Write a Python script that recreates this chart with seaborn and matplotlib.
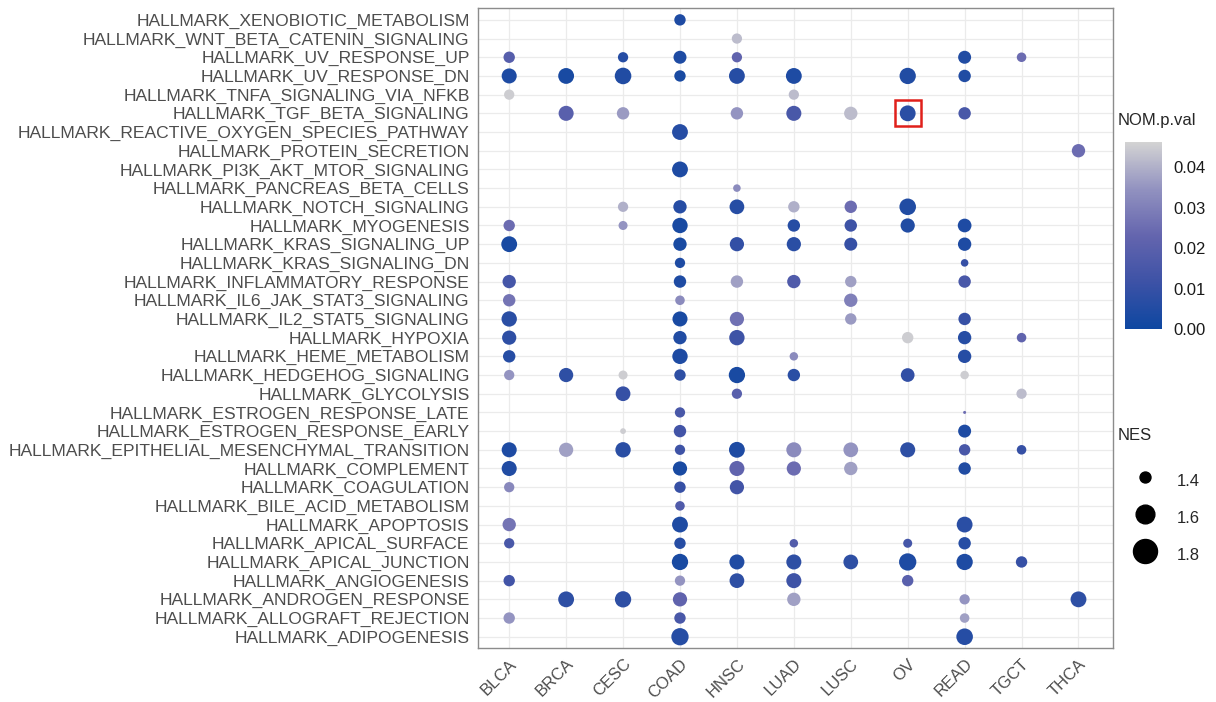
import pandas as pd
import seaborn as sns
import matplotlib.pyplot as plt
from matplotlib.colors import LinearSegmentedColormap, Normalize
from matplotlib.cm import ScalarMappable
from matplotlib.lines import Line2D
from matplotlib.patches import Rectangle

# pathways, top to bottom as shown
pathways = [
    "XENOBIOTIC_METABOLISM", "WNT_BETA_CATENIN_SIGNALING", "UV_RESPONSE_UP",
    "UV_RESPONSE_DN", "TNFA_SIGNALING_VIA_NFKB", "TGF_BETA_SIGNALING",
    "REACTIVE_OXYGEN_SPECIES_PATHWAY", "PROTEIN_SECRETION", "PI3K_AKT_MTOR_SIGNALING",
    "PANCREAS_BETA_CELLS", "NOTCH_SIGNALING", "MYOGENESIS", "KRAS_SIGNALING_UP",
    "KRAS_SIGNALING_DN", "INFLAMMATORY_RESPONSE", "IL6_JAK_STAT3_SIGNALING",
    "IL2_STAT5_SIGNALING", "HYPOXIA", "HEME_METABOLISM", "HEDGEHOG_SIGNALING",
    "GLYCOLYSIS", "ESTROGEN_RESPONSE_LATE", "ESTROGEN_RESPONSE_EARLY",
    "EPITHELIAL_MESENCHYMAL_TRANSITION", "COMPLEMENT", "COAGULATION",
    "BILE_ACID_METABOLISM", "APOPTOSIS", "APICAL_SURFACE", "APICAL_JUNCTION",
    "ANGIOGENESIS", "ANDROGEN_RESPONSE", "ALLOGRAFT_REJECTION", "ADIPOGENESIS",
]
cancers = ["BLCA", "BRCA", "CESC", "COAD", "HNSC", "LUAD", "LUSC", "OV", "READ", "TGCT", "THCA"]

# (pathway, NES, NOM.p.val) per cancer type
BLCA = [("UV_RESPONSE_UP", 1.5, 0.019), ("UV_RESPONSE_DN", 1.7, 0.004),
        ("TNFA_SIGNALING_VIA_NFKB", 1.45, 0.045), ("MYOGENESIS", 1.5, 0.025),
        ("KRAS_SIGNALING_UP", 1.75, 0.003), ("INFLAMMATORY_RESPONSE", 1.6, 0.014),
        ("IL6_JAK_STAT3_SIGNALING", 1.55, 0.027), ("IL2_STAT5_SIGNALING", 1.72, 0.007),
        ("HYPOXIA", 1.65, 0.008), ("HEME_METABOLISM", 1.55, 0.006),
        ("HEDGEHOG_SIGNALING", 1.45, 0.035), ("EPITHELIAL_MESENCHYMAL_TRANSITION", 1.7, 0.004),
        ("COMPLEMENT", 1.7, 0.005), ("COAGULATION", 1.45, 0.032), ("APOPTOSIS", 1.6, 0.027),
        ("APICAL_SURFACE", 1.45, 0.015), ("ANGIOGENESIS", 1.5, 0.013),
        ("ALLOGRAFT_REJECTION", 1.5, 0.035)]
BRCA = [("UV_RESPONSE_DN", 1.75, 0.003), ("TGF_BETA_SIGNALING", 1.7, 0.02),
        ("HEDGEHOG_SIGNALING", 1.65, 0.008), ("EPITHELIAL_MESENCHYMAL_TRANSITION", 1.65, 0.037),
        ("ANDROGEN_RESPONSE", 1.75, 0.008)]
CESC = [("UV_RESPONSE_UP", 1.45, 0.006), ("UV_RESPONSE_DN", 1.8, 0.005),
        ("TGF_BETA_SIGNALING", 1.55, 0.036), ("NOTCH_SIGNALING", 1.45, 0.04),
        ("MYOGENESIS", 1.4, 0.035), ("HEDGEHOG_SIGNALING", 1.4, 0.045),
        ("GLYCOLYSIS", 1.68, 0.01), ("ESTROGEN_RESPONSE_EARLY", 1.3, 0.045),
        ("EPITHELIAL_MESENCHYMAL_TRANSITION", 1.72, 0.007), ("ANDROGEN_RESPONSE", 1.78, 0.008)]
COAD = [("XENOBIOTIC_METABOLISM", 1.5, 0.004), ("UV_RESPONSE_UP", 1.58, 0.004),
        ("UV_RESPONSE_DN", 1.5, 0.003), ("REACTIVE_OXYGEN_SPECIES_PATHWAY", 1.75, 0.006),
        ("PI3K_AKT_MTOR_SIGNALING", 1.75, 0.004), ("NOTCH_SIGNALING", 1.6, 0.006),
        ("MYOGENESIS", 1.72, 0.003), ("KRAS_SIGNALING_UP", 1.6, 0.003),
        ("KRAS_SIGNALING_DN", 1.45, 0.004), ("INFLAMMATORY_RESPONSE", 1.55, 0.004),
        ("IL6_JAK_STAT3_SIGNALING", 1.42, 0.033), ("IL2_STAT5_SIGNALING", 1.7, 0.003),
        ("HYPOXIA", 1.6, 0.005), ("HEME_METABOLISM", 1.72, 0.004),
        ("HEDGEHOG_SIGNALING", 1.5, 0.008), ("ESTROGEN_RESPONSE_LATE", 1.45, 0.015),
        ("ESTROGEN_RESPONSE_EARLY", 1.55, 0.013), ("EPITHELIAL_MESENCHYMAL_TRANSITION", 1.45, 0.012),
        ("COMPLEMENT", 1.65, 0.003), ("COAGULATION", 1.5, 0.01),
        ("BILE_ACID_METABOLISM", 1.42, 0.017), ("APOPTOSIS", 1.75, 0.004),
        ("APICAL_SURFACE", 1.5, 0.006), ("APICAL_JUNCTION", 1.78, 0.003),
        ("ANGIOGENESIS", 1.45, 0.035), ("ANDROGEN_RESPONSE", 1.65, 0.022),
        ("ALLOGRAFT_REJECTION", 1.5, 0.015), ("ADIPOGENESIS", 1.88, 0.006)]
HNSC = [("WNT_BETA_CATENIN_SIGNALING", 1.45, 0.042), ("UV_RESPONSE_UP", 1.45, 0.022),
        ("UV_RESPONSE_DN", 1.75, 0.006), ("TGF_BETA_SIGNALING", 1.55, 0.035),
        ("PANCREAS_BETA_CELLS", 1.35, 0.033), ("NOTCH_SIGNALING", 1.68, 0.006),
        ("KRAS_SIGNALING_UP", 1.65, 0.009), ("INFLAMMATORY_RESPONSE", 1.55, 0.037),
        ("IL2_STAT5_SIGNALING", 1.65, 0.026), ("HYPOXIA", 1.72, 0.012),
        ("HEDGEHOG_SIGNALING", 1.78, 0.003), ("GLYCOLYSIS", 1.45, 0.02),
        ("EPITHELIAL_MESENCHYMAL_TRANSITION", 1.75, 0.004), ("COMPLEMENT", 1.7, 0.022),
        ("COAGULATION", 1.65, 0.013), ("APICAL_JUNCTION", 1.7, 0.005),
        ("ANGIOGENESIS", 1.68, 0.008)]
LUAD = [("UV_RESPONSE_DN", 1.75, 0.004), ("TNFA_SIGNALING_VIA_NFKB", 1.45, 0.042),
        ("TGF_BETA_SIGNALING", 1.7, 0.015), ("NOTCH_SIGNALING", 1.5, 0.04),
        ("MYOGENESIS", 1.55, 0.006), ("KRAS_SIGNALING_UP", 1.65, 0.007),
        ("INFLAMMATORY_RESPONSE", 1.6, 0.017), ("HEME_METABOLISM", 1.38, 0.033),
        ("HEDGEHOG_SIGNALING", 1.55, 0.007), ("EPITHELIAL_MESENCHYMAL_TRANSITION", 1.7, 0.033),
        ("COMPLEMENT", 1.65, 0.025), ("APICAL_SURFACE", 1.38, 0.018),
        ("APICAL_JUNCTION", 1.7, 0.008), ("ANGIOGENESIS", 1.7, 0.012),
        ("ANDROGEN_RESPONSE", 1.6, 0.037)]
LUSC = [("TGF_BETA_SIGNALING", 1.6, 0.042), ("NOTCH_SIGNALING", 1.55, 0.025),
        ("MYOGENESIS", 1.55, 0.012), ("KRAS_SIGNALING_UP", 1.58, 0.01),
        ("INFLAMMATORY_RESPONSE", 1.5, 0.037), ("IL6_JAK_STAT3_SIGNALING", 1.6, 0.03),
        ("IL2_STAT5_SIGNALING", 1.5, 0.036), ("EPITHELIAL_MESENCHYMAL_TRANSITION", 1.68, 0.035),
        ("COMPLEMENT", 1.6, 0.037), ("APICAL_JUNCTION", 1.68, 0.008)]
OV = [("UV_RESPONSE_DN", 1.78, 0.005), ("TGF_BETA_SIGNALING", 1.75, 0.007),
      ("NOTCH_SIGNALING", 1.8, 0.005), ("MYOGENESIS", 1.65, 0.005),
      ("HYPOXIA", 1.5, 0.045), ("HEDGEHOG_SIGNALING", 1.62, 0.009),
      ("EPITHELIAL_MESENCHYMAL_TRANSITION", 1.7, 0.008), ("APICAL_SURFACE", 1.4, 0.014),
      ("APICAL_JUNCTION", 1.85, 0.004), ("ANGIOGENESIS", 1.5, 0.02)]
READ = [("UV_RESPONSE_UP", 1.58, 0.005), ("UV_RESPONSE_DN", 1.55, 0.005),
        ("TGF_BETA_SIGNALING", 1.55, 0.015), ("MYOGENESIS", 1.62, 0.004),
        ("KRAS_SIGNALING_UP", 1.6, 0.004), ("KRAS_SIGNALING_DN", 1.35, 0.01),
        ("INFLAMMATORY_RESPONSE", 1.55, 0.015), ("IL2_STAT5_SIGNALING", 1.55, 0.01),
        ("HYPOXIA", 1.6, 0.006), ("HEME_METABOLISM", 1.6, 0.006),
        ("HEDGEHOG_SIGNALING", 1.38, 0.045), ("ESTROGEN_RESPONSE_LATE", 1.25, 0.025),
        ("ESTROGEN_RESPONSE_EARLY", 1.58, 0.004), ("EPITHELIAL_MESENCHYMAL_TRANSITION", 1.5, 0.015),
        ("COMPLEMENT", 1.55, 0.005), ("APOPTOSIS", 1.75, 0.007),
        ("APICAL_SURFACE", 1.55, 0.006), ("APICAL_JUNCTION", 1.78, 0.004),
        ("ANDROGEN_RESPONSE", 1.45, 0.035), ("ALLOGRAFT_REJECTION", 1.42, 0.037),
        ("ADIPOGENESIS", 1.8, 0.006)]
TGCT = [("UV_RESPONSE_UP", 1.42, 0.025), ("HYPOXIA", 1.42, 0.022),
        ("GLYCOLYSIS", 1.45, 0.042), ("EPITHELIAL_MESENCHYMAL_TRANSITION", 1.42, 0.01),
        ("APICAL_JUNCTION", 1.5, 0.01)]
THCA = [("PROTEIN_SECRETION", 1.6, 0.025), ("ANDROGEN_RESPONSE", 1.75, 0.008)]

nes_breaks = [1.4, 1.6, 1.8]
p_breaks = [0.00, 0.01, 0.02, 0.03, 0.04]

rows = []
for c, recs in zip(cancers, [BLCA, BRCA, CESC, COAD, HNSC, LUAD, LUSC, OV, READ, TGCT, THCA]):
    for p, nes, pv in recs:
        rows.append(("HALLMARK_" + p, c, nes, pv))
df = pd.DataFrame(rows, columns=["pathway", "cancer", "NES", "NOM.p.val"])

y_order = ["HALLMARK_" + p for p in pathways][::-1]  # bottom to top

cmap = LinearSegmentedColormap.from_list(
    "pval", ["#0D47A1", "#3D52A6", "#6465AE", "#9292C0", "#D3D3D3"])
norm = Normalize(vmin=0, vmax=0.0462)

sns.set_theme(style="whitegrid")
plt.rcParams["font.family"] = ["Liberation Sans", "DejaVu Sans"]

fig = plt.figure(figsize=(12.16, 7.02), dpi=100)
ax = fig.add_axes([0.393, 0.077, 0.522, 0.912])
ax.xaxis.update_units(cancers)
ax.yaxis.update_units(y_order)

sns.scatterplot(data=df, x="cancer", y="pathway", hue="NOM.p.val", size="NES",
                palette=cmap, hue_norm=norm, sizes=(4.7, 155), size_norm=(1.25, 1.85),
                linewidth=0, legend=False, ax=ax, zorder=3)

ax.set_xticks(range(len(cancers)))
ax.set_yticks(range(len(y_order)))
ax.set_xlim(-0.55, 10.6)
ax.set_ylim(-0.6, 33.65)
ax.set_xlabel("")
ax.set_ylabel("")
ax.grid(True, color="#EBEBEB", lw=0.9)
for s in ax.spines.values():
    s.set_color("#8C8C8C")
    s.set_linewidth(1.0)
ax.tick_params(length=4, width=0.8, color="#555555", labelsize=12,
               labelcolor="#4D4D4D", pad=2)
ax.tick_params(axis="y", labelsize=12.6)
plt.setp(ax.get_xticklabels(), rotation=45, ha="right", rotation_mode="anchor")

# highlight box around OV / TGF_BETA
yi = y_order.index("HALLMARK_TGF_BETA_SIGNALING")
xi = cancers.index("OV")
ax.add_patch(Rectangle((xi - 0.23, yi - 0.7), 0.46, 1.4, fill=False,
                       ec="#E0201B", lw=1.8, zorder=4))

# colour bar
cax = fig.add_axes([1125 / 1216, 1 - 329 / 702, 37 / 1216, 187 / 702])
cb = fig.colorbar(ScalarMappable(norm=norm, cmap=cmap), cax=cax)
cb.set_ticks(p_breaks)
cb.set_ticklabels([f"{v:.2f}" for v in p_breaks])
cb.outline.set_visible(False)
cax.yaxis.set_ticks_position("both")
cax.tick_params(direction="in", color="white", length=7, width=1,
                labelsize=12, labelcolor="#1A1A1A", pad=8)
fig.text(1118 / 1216, 1 - 120 / 702, "NOM.p.val", fontsize=12, va="center")

# size legend
fig.text(1118 / 1216, 1 - 435 / 702, "NES", fontsize=12, va="center")
handles = [Line2D([], [], marker="o", ls="", color="black", markersize=ms)
           for ms in (7.9, 13.5, 17.3)]
fig.legend(handles, [str(b) for b in nes_breaks], loc="upper left",
           bbox_to_anchor=(1122 / 1216, 1 - 461 / 702), frameon=False, fontsize=12,
           handleheight=2.0, labelspacing=0.68, handletextpad=0.9,
           borderaxespad=0)

fig.savefig("out.png", dpi=100)
